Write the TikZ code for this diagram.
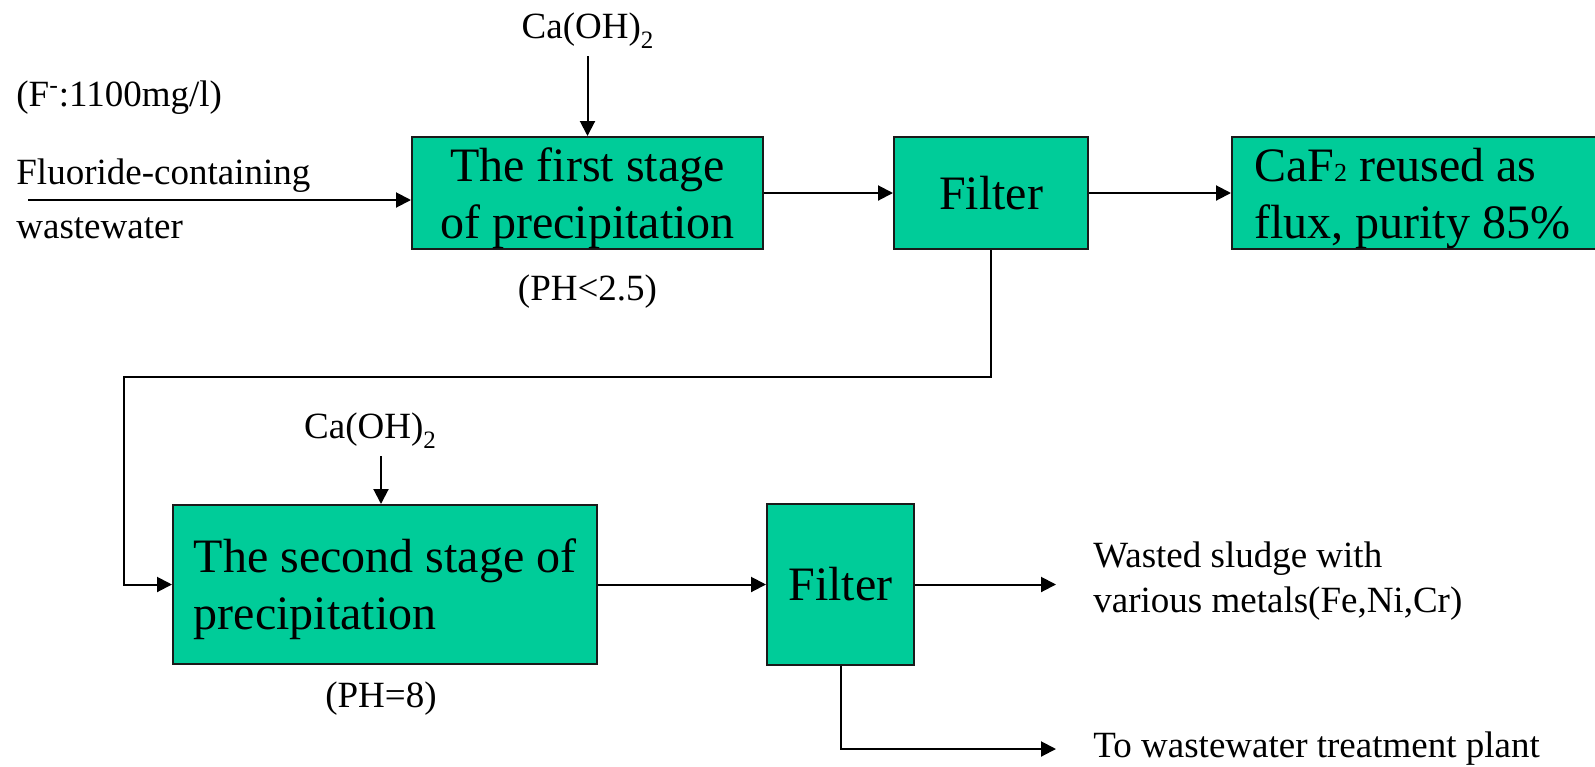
\documentclass[tikz,border=0pt]{standalone}
\usepackage{fontspec}
\setmainfont{Liberation Serif}
\usepackage{tikz}
\usetikzlibrary{positioning,arrows.meta}
\definecolor{tank}{HTML}{00CC99}
\definecolor{outline}{HTML}{1A1A1A}

\newcommand{\boxfont}{\fontsize{24}{28.5}\selectfont}
\newcommand{\lblfont}{\fontsize{18.5}{22.5}\selectfont}
% first line of a two-line box sits a bit lower
\newcommand{\lift}{\rule{0pt}{22pt}}
\newcommand{\lowtwo}{\raisebox{-5pt}{\fontsize{12.5}{12.5}\selectfont 2}}

\begin{document}
\begin{tikzpicture}[
  x=0.5pt,y=-0.5pt,
  stage/.style={draw=outline,fill=tank,line width=1pt,inner sep=0pt,align=center,font=\boxfont},
  lbl/.style={inner sep=0pt,font=\lblfont},
  >={Triangle[length=7.5pt,width=7.5pt]},flow/.style={->,line width=1pt}
]
\useasboundingbox (0,0) rectangle (1595,766);

% first stage: precipitation, filter, CaF2 recovery
\node[stage,minimum width=175.5pt,minimum height=56pt] (s1) at (587.5,193) {\lift The first stage\\of precipitation};
\node[stage,right=64.5pt of s1,minimum width=97pt,minimum height=56pt] (f1) {Filter};
\node[stage,right=71pt of f1,minimum height=56pt,text width=190pt,inner xsep=11pt,align=flush left] (caf) {\lift CaF{\fontsize{13}{13}\selectfont 2} reused as\\flux, purity 85\%};

% second stage
\node[stage,align=left,minimum width=212pt,minimum height=79.5pt] (s2) at (385,584.5) {\lift The second stage of\\precipitation};
\node[stage,right=84pt of s2,minimum width=73.5pt,minimum height=80.5pt] (f2) {Filter};

% dosing and pH notes
\node[lbl,above=43.5pt of s1] (ca1) {Ca(OH)\lowtwo};
\node[lbl,below=12pt of s1] (ph1) {(PH<2.5)};
\node[lbl,above=27.5pt of s2,xshift=-7.5pt] (ca2) {Ca(OH)\lowtwo};
\node[lbl,below=8pt of s2,xshift=-2pt] (ph2) {(PH=8)};

% inlet and outlets
\node[lbl,anchor=base west] (conc) at (16,106) {(F\textsuperscript{-}:1100mg/l)};
\node[lbl,anchor=north west,align=left] (feed) at (16,158) {Fluoride-containing\\[4.5pt]wastewater};
\node[lbl,anchor=west,align=left] (sludge) at (1093,581) {Wasted sludge with\\various metals(Fe,Ni,Cr)};
\node[lbl,anchor=west] (plant) at (1093,749) {To wastewater treatment plant};
\coordinate (src) at (28,200);
\coordinate (bend) at (124,377);

\draw[flow] (src) -- (src -| s1.west);
\draw[flow,shorten <=3.5pt] (ca1) -- (s1);
\draw[flow] (s1) -- (f1);
\draw[flow] (f1) -- (caf);
\draw[flow] (f1.south) |- (bend) |- (s2.west);
\draw[flow,shorten <=3.5pt] ([xshift=5.5pt]ca2.south) -- ([xshift=5.5pt]ca2.south |- s2.north);
\draw[flow] (s2) -- (f2);
\draw[flow,shorten >=18.5pt] (f2) -- (f2 -| sludge.west);
\draw[flow,shorten >=18.5pt] (f2) |- (plant.west);
\end{tikzpicture}
\end{document}
